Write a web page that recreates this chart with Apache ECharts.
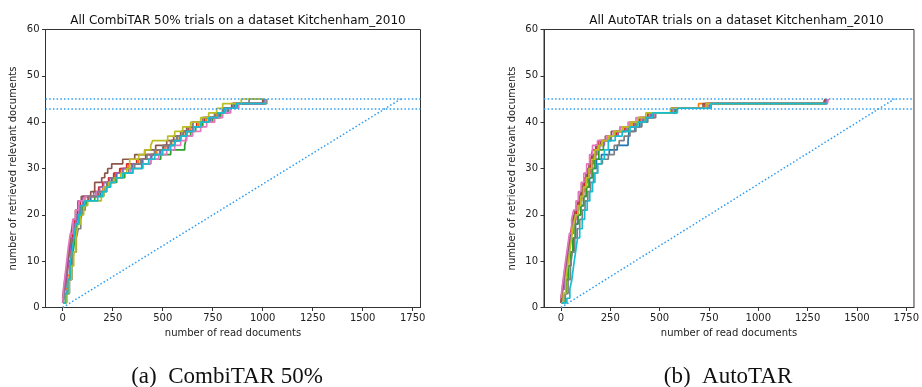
<!DOCTYPE html>
<html>
<head>
<meta charset="utf-8">
<script src="https://cdn.jsdelivr.net/npm/echarts@6/dist/echarts.min.js"></script>
<style>
  html, body { margin: 0; padding: 0; background: #fff; }
  #chart { width: 922px; height: 387px; }
</style>
</head>
<body>
<div id="chart"></div>
<script>
// Two panels of recall curves: one step line per trial, [read docs, relevant found]
const TAB10 = ["#1f77b4", "#ff7f0e", "#2ca02c", "#d62728", "#9467bd",
               "#8c564b", "#e377c2", "#7f7f7f", "#bcbd22", "#17becf"];
const X_TICKS = [0, 250, 500, 750, 1000, 1250, 1500, 1750];
const THRESHOLDS = [45, 43];          // dotted horizontal lines
const RANDOM_LINE = [[0, 0], [1690, 45]];
const TITLES = ["All CombiTAR 50% trials on a dataset Kitchenham_2010",
                "All AutoTAR trials on a dataset Kitchenham_2010"];
const CAPTIONS = ["(a)  CombiTAR 50%", "(b)  AutoTAR"];

// CombiTAR 50% trials
const combiRun1 = [[0,1],[10,3],[22,6],[34,9],[45,12],[55,15],[66,18],[78,20],[90,22],[105,23],[140,24],[190,25],[210,26],[225,27],[245,28],[270,29],[300,30],[350,31],[400,32],[445,33],[490,34],[530,35],[560,36],[590,37],[620,38],[650,39],[690,40],[740,41],[785,42],[815,43],[860,44],[1012,45]];
const combiRun2 = [[2,1],[12,4],[25,7],[36,10],[48,13],[58,15],[68,18],[80,20],[95,22],[110,24],[165,25],[200,26],[230,28],[260,29],[290,30],[330,31],[380,32],[420,33],[470,34],[515,35],[545,36],[575,37],[605,38],[640,39],[680,40],[720,41],[770,42],[810,43],[850,44],[1005,44]];
const combiRun3 = [[1,1],[14,3],[28,6],[40,9],[52,12],[62,15],[72,18],[85,20],[100,22],[118,23],[160,24],[205,26],[235,27],[270,28],[310,29],[350,30],[395,31],[440,32],[490,33],[540,34],[610,35],[620,37],[640,38],[665,39],[700,40],[750,41],[790,42],[830,43],[875,44],[1020,45]];
const combiRun4 = [[0,2],[10,4],[20,7],[30,10],[42,13],[52,16],[62,19],[74,21],[88,23],[130,24],[180,26],[200,27],[230,28],[255,29],[285,30],[320,31],[370,32],[415,33],[460,34],[505,35],[540,36],[570,37],[600,38],[630,39],[670,40],[710,41],[760,42],[800,43],[845,44],[1010,44]];
const combiRun5 = [[0,1],[6,3],[15,6],[25,9],[35,12],[45,15],[56,18],[68,20],[82,22],[100,24],[155,25],[185,26],[205,27],[235,28],[265,29],[300,30],[345,31],[395,32],[440,33],[485,34],[525,35],[560,36],[585,37],[615,38],[650,39],[690,40],[735,41],[780,42],[825,43],[870,44],[1005,45]];
const combiRun6 = [[0,2],[5,4],[14,7],[24,10],[33,13],[42,16],[52,19],[64,21],[76,23],[93,24],[140,25],[160,27],[195,28],[210,29],[225,30],[245,31],[300,32],[360,33],[410,34],[465,35],[520,36],[555,37],[590,38],[620,39],[650,40],[700,41],[760,42],[800,43],[850,44],[1000,45]];
const combiRun7 = [[0,1],[4,4],[12,7],[20,10],[28,13],[38,16],[50,19],[64,21],[80,23],[112,24],[170,25],[205,26],[230,27],[260,28],[300,29],[340,30],[400,31],[440,32],[480,33],[520,34],[560,35],[590,36],[620,37],[650,38],[690,39],[720,40],[760,41],[800,42],[840,43],[880,44],[1015,45]];
const combiRun8 = [[4,1],[20,3],[34,6],[46,9],[56,12],[68,15],[78,17],[90,19],[100,21],[112,23],[125,24],[175,25],[220,27],[250,28],[300,29],[330,30],[360,31],[390,32],[420,33],[460,34],[500,35],[540,36],[570,37],[600,38],[625,39],[650,40],[700,41],[760,42],[800,43],[850,44],[932,45],[1005,45]];
const combiRun9 = [[3,1],[18,3],[32,6],[44,9],[55,12],[66,15],[76,18],[88,20],[105,22],[125,23],[193,24],[205,26],[230,27],[260,28],[290,29],[320,30],[335,32],[380,33],[410,34],[440,35],[450,36],[525,37],[560,38],[600,39],[640,40],[690,41],[730,42],[770,43],[800,44],[893,45],[1000,45]];
const combiRun10 = [[2,1],[14,3],[25,6],[36,9],[46,12],[56,15],[66,18],[78,20],[92,22],[110,23],[175,24],[200,25],[220,26],[240,27],[265,28],[300,29],[350,30],[400,31],[430,32],[460,33],[500,34],[540,35],[560,36],[590,37],[620,38],[655,39],[690,40],[730,41],[775,42],[810,43],[868,44],[1018,44]];

// AutoTAR trials
const autoRun1 = [[0,1],[12,3],[26,6],[38,9],[50,12],[62,15],[74,18],[86,20],[100,22],[115,24],[130,26],[145,28],[160,30],[180,32],[205,33],[245,34],[285,35],[340,36],[345,38],[375,39],[400,40],[430,41],[470,42],[580,43],[760,44],[1345,44]];
const autoRun2 = [[0,2],[8,4],[20,7],[32,10],[42,13],[52,16],[64,19],[76,21],[90,23],[105,25],[120,27],[135,29],[150,31],[165,33],[185,35],[210,36],[240,37],[270,38],[320,39],[360,40],[410,41],[450,42],[560,43],[697,44],[1340,44],[1345,45]];
const autoRun3 = [[2,1],[14,3],[26,6],[37,9],[48,12],[60,15],[72,18],[86,20],[100,22],[115,24],[128,26],[142,28],[158,30],[172,32],[192,34],[215,36],[250,37],[290,38],[340,39],[380,40],[420,41],[460,42],[575,43],[750,44],[1335,44]];
const autoRun4 = [[0,1],[6,3],[16,6],[26,9],[36,12],[46,15],[56,18],[66,20],[78,22],[92,24],[106,26],[120,28],[135,30],[152,32],[160,34],[178,35],[190,36],[240,37],[280,38],[325,39],[370,40],[400,41],[440,42],[560,43],[730,44],[1330,44],[1338,45]];
const autoRun5 = [[0,2],[9,4],[20,7],[30,10],[40,13],[50,16],[62,18],[74,20],[86,22],[100,24],[115,26],[130,28],[145,30],[160,32],[176,34],[196,35],[220,36],[255,37],[290,38],[330,39],[375,40],[415,41],[455,42],[565,43],[740,44],[1345,44],[1350,45]];
const autoRun6 = [[0,1],[7,4],[16,7],[26,10],[36,13],[46,16],[58,19],[70,21],[84,23],[98,25],[112,27],[127,29],[142,31],[160,33],[176,35],[200,36],[225,37],[255,38],[300,39],[350,40],[395,41],[440,42],[560,43],[720,44],[1335,44],[1340,45]];
const autoRun7 = [[0,2],[5,4],[14,7],[23,10],[33,13],[43,16],[54,19],[64,21],[76,23],[88,25],[102,27],[116,29],[130,31],[145,33],[160,35],[185,36],[230,37],[265,38],[300,39],[340,40],[380,41],[475,42],[570,43],[745,44],[1350,44],[1355,45]];
const autoRun8 = [[4,1],[22,3],[36,6],[48,9],[58,12],[70,15],[82,17],[95,19],[108,21],[122,23],[136,25],[150,27],[165,29],[185,31],[210,32],[240,33],[270,35],[295,36],[320,37],[350,38],[380,39],[410,40],[440,41],[480,42],[585,43],[755,44],[1340,44]];
const autoRun9 = [[1,1],[12,3],[24,6],[34,9],[44,12],[54,15],[64,18],[74,20],[86,22],[100,24],[114,26],[128,28],[142,30],[156,32],[172,34],[192,35],[210,36],[240,37],[270,38],[310,39],[350,40],[390,41],[430,42],[555,43],[735,44],[1335,44]];
const autoRun10 = [[5,1],[30,2],[45,4],[55,6],[64,9],[74,12],[84,15],[95,17],[108,19],[120,21],[133,23],[146,25],[160,27],[172,29],[186,31],[205,32],[220,34],[240,36],[275,37],[310,38],[350,39],[390,40],[430,41],[465,42],[590,43],[760,44],[1350,44]];

const COMBI_RUNS = [combiRun1, combiRun2, combiRun3, combiRun4, combiRun5,
                    combiRun6, combiRun7, combiRun8, combiRun9, combiRun10];
const AUTO_RUNS  = [autoRun1, autoRun2, autoRun3, autoRun4, autoRun5,
                    autoRun6, autoRun7, autoRun8, autoRun9, autoRun10];

const AX = "#333";
const TXT = "#222";
const DOT = "#2b9cf2";
const DOT_DASH = [1.5, 2.2];
const FONT = "DejaVu Sans";

const chart = echarts.init(document.getElementById("chart"), null, { renderer: "canvas" });

const grid = [
  { left: 45.5, top: 29.5, width: 375, height: 278, show: true, borderColor: AX, borderWidth: 1 },
  { left: 544, top: 29.5, width: 375, height: 278, show: true, borderColor: AX, borderWidth: 1 },
];

const xAxis = grid.map((_, i) => ({
  gridIndex: i, type: "value", min: -86, max: 1789,
  name: "number of read documents", nameLocation: "middle", nameGap: 20,
  nameTextStyle: { color: TXT, fontSize: 10, fontFamily: FONT },
  axisLine: { show: true, onZero: false, lineStyle: { color: AX } },
  axisTick: { show: true, length: 3.5, customValues: X_TICKS, lineStyle: { color: AX } },
  axisLabel: { customValues: X_TICKS, color: TXT, fontSize: 10, fontFamily: FONT, margin: 6,
               formatter: v => String(v) },
  splitLine: { show: false },
}));

const yAxis = grid.map((_, i) => ({
  gridIndex: i, type: "value", min: 0, max: 60, interval: 10,
  name: "number of retrieved relevant documents", nameLocation: "middle", nameGap: 27,
  nameTextStyle: { color: TXT, fontSize: 10, fontFamily: FONT },
  axisLine: { show: true, onZero: false, lineStyle: { color: AX } },
  axisTick: { show: true, length: 3.5, lineStyle: { color: AX } },
  axisLabel: { color: TXT, fontSize: 10, fontFamily: FONT, margin: 6 },
  splitLine: { show: false },
}));

function panelSeries(runs, gi) {
  const lines = runs.map((pts, i) => ({
    type: "line", xAxisIndex: gi, yAxisIndex: gi, data: pts, step: "end",
    symbol: "none", silent: true, clip: true,
    lineStyle: { color: TAB10[i], width: 1.7 },
  }));
  lines.push({
    type: "line", xAxisIndex: gi, yAxisIndex: gi, data: RANDOM_LINE,
    symbol: "none", silent: true,
    lineStyle: { color: DOT, width: 1.5, type: DOT_DASH },
    markLine: {
      silent: true, symbol: "none", label: { show: false }, animation: false,
      lineStyle: { color: DOT, width: 1.5, type: DOT_DASH },
      data: THRESHOLDS.map(v => ({ yAxis: v })),
    },
  });
  return lines;
}

const centers = grid.map(g => g.left + g.width / 2);

chart.setOption({
  animation: false,
  backgroundColor: "#fff",
  title: TITLES.map((t, i) => ({
    text: t, left: centers[i], top: 10, textAlign: "center",
    textStyle: { color: "#111", fontSize: 12, fontWeight: "normal", fontFamily: FONT },
  })),
  grid, xAxis, yAxis,
  series: [...panelSeries(COMBI_RUNS, 0), ...panelSeries(AUTO_RUNS, 1)],
  graphic: CAPTIONS.map((c, i) => ({
    type: "text", x: i === 0 ? 227 : 728, y: 365,
    style: { text: c, textAlign: "center", fill: "#111",
             font: "23px 'Liberation Serif', 'DejaVu Serif', serif" },
  })),
});
</script>
</body>
</html>
